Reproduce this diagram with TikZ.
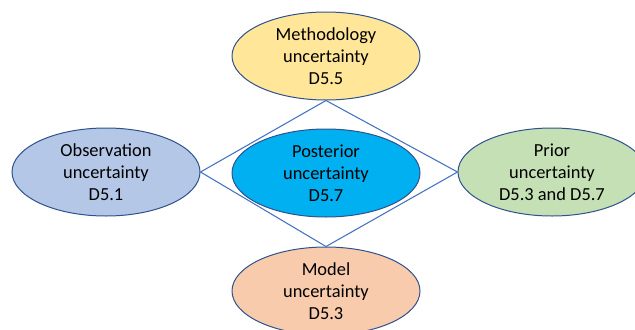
\documentclass[tikz,border=0pt]{standalone}
\usepackage{fontspec}
\setmainfont{Carlito}
\usepackage{xcolor}
\usetikzlibrary{shapes.geometric,positioning}

\definecolor{edgeblue}{HTML}{2F528F}
\definecolor{linkblue}{HTML}{4472C4}
\definecolor{methfill}{HTML}{FFE699}
\definecolor{obsfill}{HTML}{B4C7E7}
\definecolor{postfill}{HTML}{00B0F0}
\definecolor{priorfill}{HTML}{C5E0B4}
\definecolor{modelfill}{HTML}{F8CBAD}

\begin{document}
\begin{tikzpicture}[
    x=0.75pt, y=-0.75pt,
    source/.style={ellipse, draw=edgeblue, line width=0.75pt, minimum width=141pt, minimum height=66pt,
        inner sep=0pt, align=center, font=\fontsize{13.8}{16.5}\selectfont},
    link/.style={linkblue, line width=0.8pt}
]
    % Frame of the picture
    \useasboundingbox (0,0) rectangle (635,329);
    \clip (0,0) rectangle (635,329);

    % Uncertainty sources
    \node[source, fill=methfill] (meth) at (326,56) {Methodology\\uncertainty\\D5.5};
    \node[source, fill=obsfill] (obs) at (106,172) {Observation\\uncertainty\\D5.1};
    \node[source, fill=postfill] (post) at (326,173) {Posterior\\uncertainty\\D5.7};
    \node[source, fill=priorfill] (prior) at (552,172) {Prior\\uncertainty\\D5.3 and D5.7};
    \node[source, fill=modelfill] (model) at (326,291) {Model\\uncertainty\\D5.3};

    % Diamond joining the outer sources
    \draw[link] (meth.south) -- (obs.east) -- (model.north) -- (prior.west) -- cycle;
\end{tikzpicture}
\end{document}
